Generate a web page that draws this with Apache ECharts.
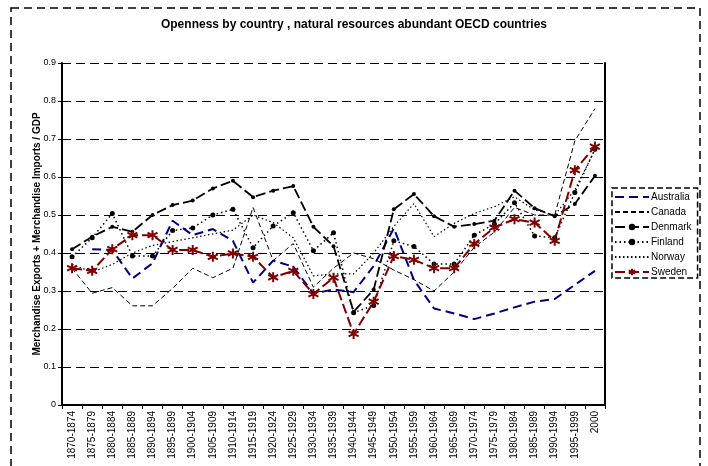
<!DOCTYPE html>
<html><head><meta charset="utf-8">
<script src="https://cdn.jsdelivr.net/npm/echarts@6/dist/echarts.min.js"></script>
<style>html,body{margin:0;padding:0;background:#fff}#c{width:708px;height:466px}</style>
</head><body><div id="c"></div>
<script>
const categories = ["1870-1874","1875-1879","1880-1884","1885-1889","1890-1894","1895-1899","1900-1904","1905-1909","1910-1914","1915-1919","1920-1924","1925-1929","1930-1934","1935-1939","1940-1944","1945-1949","1950-1954","1955-1959","1960-1964","1965-1969","1970-1974","1975-1979","1980-1984","1985-1989","1990-1994","1995-1999","2000"];
const australia = [null,0.41,0.408,0.333,0.373,0.485,0.447,0.463,0.432,0.322,0.38,0.364,0.293,0.304,0.297,0.366,0.465,0.329,0.254,0.241,0.226,0.241,0.257,0.272,0.279,0.316,0.353];
const canada = [0.36,0.294,0.309,0.261,0.261,0.307,0.36,0.335,0.36,0.52,0.38,0.425,0.31,0.36,0.40,0.385,0.355,0.33,0.30,0.35,0.415,0.455,0.52,0.50,0.50,0.695,0.78];
const denmark = [0.41,0.443,0.469,0.456,0.50,0.526,0.538,0.57,0.59,0.547,0.564,0.576,0.469,0.418,0.245,0.304,0.515,0.555,0.497,0.469,0.476,0.485,0.564,0.518,0.497,0.529,0.603];
const finland = [0.39,0.44,0.504,0.392,0.392,0.459,0.466,0.50,0.515,0.414,0.471,0.506,0.406,0.453,0.243,0.262,0.432,0.417,0.371,0.371,0.447,0.476,0.532,0.445,0.44,0.559,0.673];
const norway = [0.37,0.35,0.37,0.40,0.42,0.43,0.44,0.45,0.46,0.50,0.48,0.44,0.34,0.345,0.345,0.40,0.47,0.53,0.443,0.478,0.504,0.522,0.548,0.513,0.50,0.566,0.671];
const sweden = [0.36,0.353,0.41,0.447,0.447,0.408,0.408,0.39,0.399,0.39,0.336,0.353,0.292,0.335,0.187,0.272,0.392,0.382,0.36,0.36,0.424,0.467,0.489,0.48,0.432,0.618,0.68];
const yTicks = {min:0, max:0.9, interval:0.1};

const font = '"Liberation Sans", Arial, sans-serif';
const asterisk = 'path://M0,-5L0,5M-4.33,-2.5L4.33,2.5M-4.33,2.5L4.33,-2.5';
const noMark = {color:'rgba(0,0,0,0)', borderWidth:0, opacity:0};
const chart = echarts.init(document.getElementById('c'), null, {renderer:'canvas'});
chart.setOption({
  animation:false,
  backgroundColor:'#fff',
  textStyle:{fontFamily:font},
  title:{text:'Openness by country , natural resources abundant OECD countries', left:'center', top:14,
    textStyle:{fontSize:12, fontWeight:'bold', color:'#000', fontFamily:font}},
  graphic:[{type:'rect', shape:{x:11,y:8,width:689,height:470}, style:{fill:'none', stroke:'#000', lineWidth:1.5, lineDash:[8,5]}, z:-1}],
  grid:{left:62, right:103, top:63, bottom:61},
  legend:{orient:'vertical', left:612, top:188, itemWidth:34, itemHeight:8, itemGap:5,
    borderColor:'#000', borderWidth:1.5, borderType:'dashed', padding:[4,6,1,2],
    textStyle:{fontSize:10, color:'#000', fontFamily:font, padding:[0,0,0,-3]},
    data:[{name:'Australia', itemStyle:noMark},{name:'Canada', itemStyle:noMark},'Denmark','Finland',{name:'Norway', itemStyle:noMark},'Sweden']},
  xAxis:{type:'category', data:categories, boundaryGap:true,
    axisLine:{lineStyle:{color:'#000', width:2}},
    axisTick:{show:true, length:4, lineStyle:{color:'#000'}},
    axisLabel:{rotate:90, interval:0, fontSize:10, color:'#000', fontFamily:font, margin:6}},
  yAxis:[{type:'value', min:yTicks.min, max:yTicks.max, interval:yTicks.interval,
    name:'Merchandise Exports + Merchandise Imports / GDP', nameLocation:'middle', nameRotate:90, nameGap:20,
    nameMoveOverlap:false,
    nameTextStyle:{fontSize:10, fontWeight:'bold', color:'#000', fontFamily:font},
    axisLine:{show:true, lineStyle:{color:'#000', width:2}},
    axisTick:{show:true, length:4, lineStyle:{color:'#000'}},
    axisLabel:{fontSize:9, color:'#000', fontFamily:font, margin:6},
    splitLine:{show:true, lineStyle:{color:'#000', type:[9,5], width:1}}},
   {type:'value', min:yTicks.min, max:yTicks.max, interval:yTicks.interval, position:'right',
    axisLine:{show:true, lineStyle:{color:'#000', width:2}}, axisTick:{show:false}, axisLabel:{show:false}, splitLine:{show:false}}],
  series:[
    {name:'Australia', type:'line', data:australia, showSymbol:false, symbol:'none', itemStyle:{color:'#000080'},
      lineStyle:{color:'#000080', width:2, type:[9,5]}},
    {name:'Canada', type:'line', data:canada, symbol:'none', itemStyle:{color:'#000'},
      lineStyle:{color:'#000', width:1, type:[5,3]}},
    {name:'Denmark', type:'line', data:denmark, symbol:'circle', symbolSize:4, itemStyle:{color:'#000'},
      lineStyle:{color:'#000', width:1.8, type:[10,4]}},
    {name:'Finland', type:'line', data:finland, symbol:'circle', symbolSize:5, itemStyle:{color:'#000'},
      lineStyle:{color:'#000', width:1.5, type:[1.5,3]}},
    {name:'Norway', type:'line', data:norway, symbol:'none', itemStyle:{color:'#000'},
      lineStyle:{color:'#000', width:1.2, type:[1.5,2.5]}},
    {name:'Sweden', type:'line', data:sweden, symbol:asterisk, symbolSize:10,
      itemStyle:{color:'#800000', borderColor:'#800000', borderWidth:2},
      lineStyle:{color:'#800000', width:2, type:[10,4]}}
  ]
});
</script></body></html>
